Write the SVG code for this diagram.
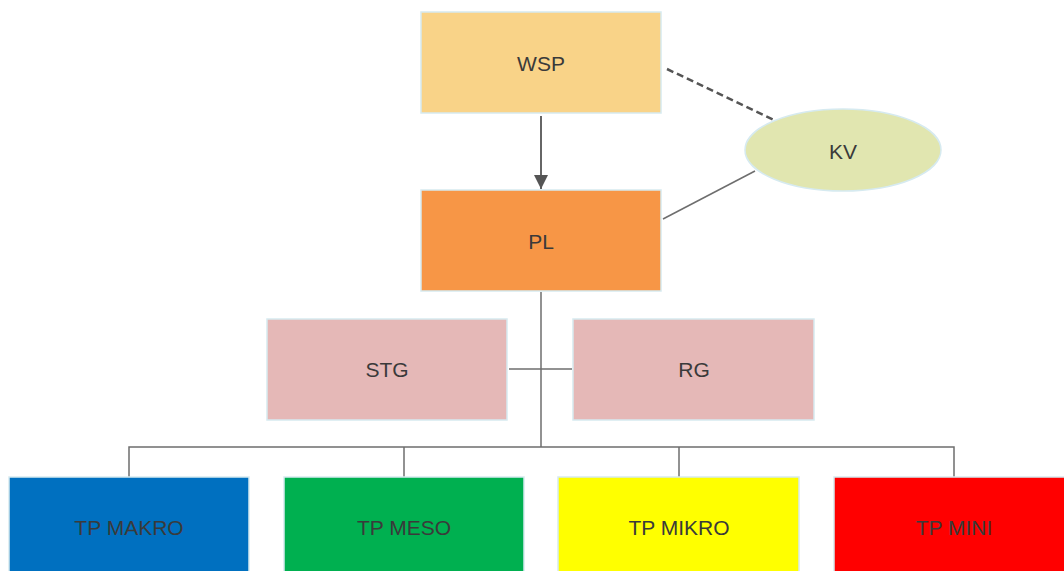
<svg xmlns="http://www.w3.org/2000/svg" width="1064" height="571" viewBox="0 0 1064 571">
<defs>
<style>
.box{stroke:#D6EAF0;stroke-width:1.5}
.lbl{font-family:"Liberation Sans",Arial,sans-serif;font-size:21px;fill:#3a3a3a;text-anchor:middle;dominant-baseline:central}
.ln{stroke:#6e6e6e;stroke-width:1.5;fill:none}
</style>
<marker id="ah" viewBox="0 0 10 10" refX="10" refY="5" markerWidth="14" markerHeight="14" markerUnits="userSpaceOnUse" orient="auto">
<path d="M0,0 L10,5 L0,10 z" fill="#555"/>
</marker>
</defs>
<rect width="1064" height="571" fill="#fff"/>
<g id="connectors">
<line x1="541" y1="116" x2="541" y2="189" stroke="#666" stroke-width="2" marker-end="url(#ah)"/>
<line x1="667" y1="69" x2="774" y2="120" stroke="#555" stroke-width="2.5" stroke-dasharray="7,4"/>
<line class="ln" x1="663" y1="219" x2="755" y2="171"/>
<line class="ln" x1="541" y1="292" x2="541" y2="447"/>
<line class="ln" x1="509" y1="369" x2="572" y2="369"/>
<polyline class="ln" points="129,477 129,447 954,447 954,477"/>
<line class="ln" x1="404" y1="447" x2="404" y2="477"/>
<line class="ln" x1="679" y1="447" x2="679" y2="477"/>
</g>
<g id="WSP"><rect class="box" x="421" y="12" width="240" height="101" fill="#F9D388"/><text class="lbl" x="541" y="63">WSP</text></g>
<g id="KV"><ellipse class="box" cx="843" cy="150" rx="98" ry="41" fill="#E1E6B0"/><text class="lbl" x="843" y="151">KV</text></g>
<g id="PL"><rect class="box" x="421" y="190" width="240" height="101" fill="#F79646"/><text class="lbl" x="541" y="241">PL</text></g>
<g id="STG"><rect class="box" x="267" y="319" width="240" height="101" fill="#E5B8B7"/><text class="lbl" x="387" y="369">STG</text></g>
<g id="RG"><rect class="box" x="573" y="319" width="241" height="101" fill="#E5B8B7"/><text class="lbl" x="694" y="369">RG</text></g>
<g id="TPMAKRO"><rect class="box" x="9" y="477" width="240" height="101" fill="#0070C0"/><text class="lbl" x="129" y="527">TP MAKRO</text></g>
<g id="TPMESO"><rect class="box" x="284" y="477" width="240" height="101" fill="#00B050"/><text class="lbl" x="404" y="527">TP MESO</text></g>
<g id="TPMIKRO"><rect class="box" x="558" y="477" width="241" height="101" fill="#FFFF00"/><text class="lbl" x="679" y="527">TP MIKRO</text></g>
<g id="TPMINI"><rect class="box" x="834" y="477" width="240" height="101" fill="#FF0000"/><text class="lbl" x="954" y="527">TP MINI</text></g>
</svg>
